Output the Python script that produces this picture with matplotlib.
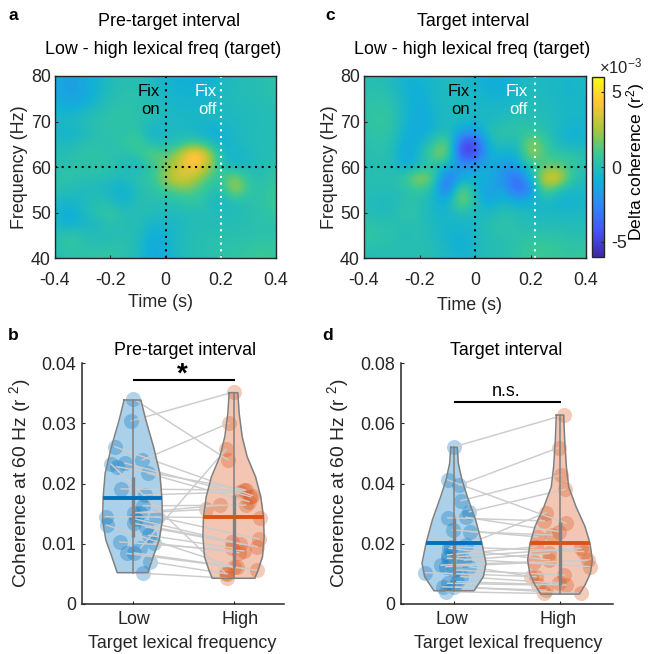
import numpy as np
import matplotlib
matplotlib.use("Agg")
import matplotlib.pyplot as plt
from matplotlib.colors import LinearSegmentedColormap

plt.rcParams['font.family'] = ['Liberation Sans', 'DejaVu Sans']
plt.rcParams['mathtext.default'] = 'regular'

W, H = 649, 654
DARK = '#262626'
FS = 12.9

# delta coherence (x 10^-3), rows 80 -> 40 Hz, columns -0.4 -> 0.4 s
pre_target = [
    [-1.0, -1.5, -1.3, -0.7, -0.2, 0.1, 0.1, -0.2, -0.7, -0.9, -0.9, -0.9, -0.5, -0.2, 0.0, 0.1, 0.4],
    [-1.2, -1.7, -1.4, -0.7, -0.1, 0.2, 0.2, -0.1, -0.6, -0.8, -0.8, -0.8, -0.4, -0.1, 0.1, 0.1, 0.5],
    [-1.0, -1.5, -1.3, -0.6, 0.1, 0.3, 0.3, 0.0, -0.5, -0.7, -0.7, -0.6, -0.3, -0.1, 0.0, 0.1, 0.3],
    [-0.7, -0.9, -0.6, -0.1, 0.3, 0.4, 0.3, 0.1, -0.3, -0.5, -0.5, -0.4, -0.2, -0.2, -0.1, 0.0, 0.1],
    [-0.3, -0.3, 0.0, 0.3, 0.5, 0.4, 0.3, 0.0, -0.3, -0.4, -0.4, -0.5, -0.4, -0.3, -0.2, 0.0, 0.0],
    [-0.4, -0.9, -0.3, 0.2, 0.3, 0.3, 0.6, -0.9, -0.3, -0.3, -0.4, -1.0, -0.9, -0.3, -0.1, 0.0, 0.0],
    [-0.2, -0.2, 0.2, 0.3, 0.3, 0.5, 1.2, 0.0, -0.2, 0.3, 1.2, 0.3, -0.8, -0.4, -0.1, 0.0, 0.1],
    [0.0, 0.2, 0.4, 0.4, 0.2, 0.2, 0.3, 1.8, 1.2, 2.8, 5.6, 3.8, -0.3, -0.7, -0.3, 0.0, 0.1],
    [0.2, 0.3, 0.4, 0.5, 0.4, 0.0, -0.5, 0.5, 1.8, 3.2, 4.6, 3.0, 0.2, -0.5, -0.3, 0.1, 0.3],
    [0.3, 0.5, 0.2, 0.1, 0.0, -0.2, 0.5, 0.5, 2.4, 3.8, 3.0, 1.2, 0.5, 2.5, 0.3, 0.1, 0.6],
    [0.3, 0.0, -0.2, -0.1, -0.6, -1.0, 0.0, 0.4, 0.9, 1.7, 1.5, 0.5, -0.2, 3.0, 0.6, 0.3, 0.9],
    [-0.3, -0.5, -0.3, 0.2, 0.0, -0.9, 0.1, 0.2, 0.1, 0.3, 0.7, 0.2, -0.6, 0.1, 0.2, 0.5, 1.0],
    [-0.4, -1.2, -0.4, 0.3, 0.7, 0.0, 0.1, 0.0, -0.2, -0.1, 0.1, 0.1, -0.2, -0.1, 0.1, 0.4, 0.6],
    [-0.4, -1.0, -0.5, -0.3, 0.3, 0.0, 0.1, -0.6, -0.5, -0.3, 0.0, 0.0, 0.0, 0.1, 0.2, 0.3, 0.3],
    [0.1, 0.6, 0.2, -0.1, 0.0, 0.2, 0.0, -1.0, -0.8, -0.2, 0.1, 0.2, 0.2, 0.2, 0.2, 0.3, 0.3],
    [0.1, 0.6, 0.3, 0.2, 0.3, 0.3, 0.0, -1.4, -0.9, -0.2, 0.1, 0.2, 0.3, 0.4, 0.5, 0.8, 0.6],
    [0.0, 0.3, 0.4, 0.6, 0.6, 0.3, -0.1, -1.4, -0.9, -0.2, 0.1, 0.2, 0.4, 0.5, 0.7, 1.0, 0.6],
]
target = [
    [0.0, 0.1, -0.2, -0.6, -0.7, -0.3, -0.2, -0.1, -0.6, -1.2, -1.2, -0.6, -0.2, -0.3, -0.5, -0.5, -0.3],
    [0.1, 0.2, -0.1, -0.8, -1.0, -0.4, -0.2, -0.2, -0.5, -1.0, -1.0, -0.5, -0.1, -0.3, -0.5, -0.6, -0.3],
    [0.2, 0.4, 0.2, -0.6, -1.1, -0.4, -0.2, -0.2, -0.4, -0.7, -0.7, -0.4, -0.1, -0.2, -0.4, -0.6, -0.4],
    [0.3, 0.7, 0.4, -0.6, -1.2, -0.6, -0.2, -0.3, -0.4, -0.4, -0.4, -0.2, 0.0, -0.1, -0.3, -0.5, -0.4],
    [0.3, 0.8, 0.5, -0.6, -1.3, -0.8, -0.1, -0.3, -0.5, -0.3, 0.0, 0.3, 0.1, 0.0, -0.3, -0.6, -0.5],
    [0.2, 0.6, 0.4, -0.9, -1.2, -0.7, 0.1, -1.5, -2.0, 0.1, 0.5, 0.3, 0.7, 0.3, -0.4, -0.9, -0.6],
    [0.1, 0.4, 0.2, -1.3, -0.8, 0.6, 2.4, -5.0, -5.0, -0.5, 0.1, -0.4, 2.6, 1.0, -0.3, -0.7, -0.5],
    [0.0, 0.3, 0.1, -1.5, -0.5, 1.8, 2.0, -4.8, -4.6, -0.8, -0.8, -1.2, 2.5, 1.0, 0.5, 0.6, 0.1],
    [0.0, 0.2, 0.0, -1.0, -0.2, 0.3, -0.7, -1.8, -1.5, -0.9, -1.8, -1.6, 0.2, 1.3, 1.7, 0.6, 0.1],
    [0.1, 0.2, 0.1, 0.8, 2.8, 1.5, -4.0, -1.2, -0.9, -0.8, -2.2, -3.8, -1.0, 3.8, 4.0, 0.3, 0.0],
    [0.0, 0.1, 0.0, 0.2, 0.9, -0.1, -4.0, 2.5, -0.6, -1.9, -1.0, -4.0, -2.8, 2.0, 0.2, -0.5, -0.3],
    [0.0, -0.2, -0.2, 0.3, 0.2, -0.5, -1.2, 2.5, 0.1, -1.6, -0.3, -1.2, -0.8, -0.3, -0.8, -0.8, -0.4],
    [0.1, -0.2, -0.1, 0.5, 0.3, -0.5, -0.7, 0.2, -0.3, -0.4, 0.2, 0.0, -0.3, -0.4, -0.4, -0.4, -0.3],
    [0.4, 0.3, 0.2, 0.2, 0.2, -0.3, -0.5, -0.5, -0.4, 0.2, 0.5, 0.2, -0.1, 0.0, 0.0, -0.1, 0.0],
    [0.6, 0.4, 0.3, -0.1, 0.2, -0.2, -0.7, -0.8, -0.5, 0.1, 0.2, 0.3, 0.3, 0.3, 0.3, 0.1, 0.2],
    [0.3, 0.2, 0.2, 0.1, 0.2, 0.0, -0.5, -1.0, -0.4, 0.1, 0.1, 0.4, 0.8, 0.9, 0.7, 0.4, 0.6],
    [0.1, 0.0, 0.1, 0.1, 0.2, 0.0, -0.3, -0.6, -0.3, 0.1, 0.1, 0.4, 0.9, 0.9, 0.7, 0.6, 0.8],
]

# paired coherence values, same subject on the same index
b_low = [.0341, .0304, .0239, .0093, .0261, .0234, .0232, .0228, .0217, .0191, .0181, .0163, .0151, .0151,
         .0145, .0145, .0141, .0134, .0131, .0128, .0114, .0103, .0101, .0085, .0084, .0070, .0051]
b_low_jit = [.007, -.013, .096, .079, -.175, -.076, -.211, -.158, .152, -.112, .119, .106, .013, .079,
             -.267, .228, .03, .013, -.257, .129, .162, -.125, .211, .013, -.053, .178, .106]
b_high = [.0239, .0352, .0300, .0257, .0180, .0178, .0051, .0190, .0170, .0189, .0186, .0164, .0164, .0157,
          .0143, .0108, .0100, .0103, .0062, .0095, .0093, .0088, .0085, .0061, .0056, .0050, .0043]
b_high_jit = [-.053, .003, -.046, -.073, .185, .168, -.079, .102, .152, .119, .069, .119, -.129, -.277,
              .267, .251, .069, -.013, .003, .234, -.013, .102, .053, .036, .234, -.063, -.069]

d_low = [.0522, .0395, .0343, .0306, .0412, .0286, .0288, .0246, .0240, .0196, .0190, .0185, .0163, .0157,
         .0152, .0146, .0129, .0124, .0124, .0113, .0104, .0091, .0074, .0069, .0057, .0057, .0041]
d_low_jit = [.003, .05, .066, .145, -.06, -.06, .113, -.013, .154, .113, -.028, -.044, -.06, .035,
             -.06, .097, -.123, -.075, .145, .003, -.27, .066, .028, -.06, -.107, .003, -.075]
d_high = [.0627, .0519, .0428, .0381, .0268, .0276, .0240, .0223, .0229, .0303, .0174, .0146, .0190, .0185,
          .0124, .0168, .0140, .0146, .0091, .0096, .0091, .0069, .0063, .0063, .0046, .0035, .0035]
d_high_jit = [.035, -.013, .009, .05, .057, -.148, -.006, -.21, -.075, -.132, .223, -.10, -.226, .198,
              .283, -.10, -.242, .261, -.274, .041, -.226, -.006, .057, -.21, -.132, .198, -.148]

# violin outlines: level, half width
b_low_lev = [.03386, .03054, .02611, .02169, .01781, .01394, .01062, .00786, .00520]
b_low_w = [.083, .132, .208, .271, .29, .297, .264, .205, .152]
b_high_lev = [.03507, .03165, .02777, .02445, .02113, .01781, .01449, .01117, .00785, .00564, .00427]
b_high_w = [.043, .056, .086, .135, .218, .27, .297, .303, .287, .244, .211]
d_low_lev = [.0520, .0467, .0412, .0356, .0279, .0201, .0135, .0091, .0069, .0044]
d_low_w = [.031, .041, .075, .126, .204, .264, .302, .277, .236, .189]
d_high_lev = [.0627, .0544, .0456, .0389, .0323, .0257, .0201, .0146, .0102, .0063, .0033]
d_high_w = [.035, .044, .06, .082, .151, .236, .283, .305, .286, .236, .182]

# median, lower and upper box
b_low_stats = [.0176, .0111, .0210]
b_high_stats = [.0144, .0062, .0181]
d_low_stats = [.0202, .0100, .0285]
d_high_stats = [.0203, .0063, .0272]

parula = LinearSegmentedColormap.from_list('parula', [
    (0.2422, 0.1504, 0.6603), (0.2810, 0.3228, 0.9579), (0.1786, 0.5289, 0.9682),
    (0.0689, 0.6948, 0.8394), (0.2161, 0.7843, 0.5923), (0.6720, 0.7793, 0.2227),
    (0.9970, 0.7659, 0.2199), (0.9769, 0.9839, 0.0805)])


def px_axes(x0, y0, x1, y1):
    return fig.add_axes([x0 / W, 1 - y1 / H, (x1 - x0) / W, (y1 - y0) / H])


def px_text(x, y, s, **kw):
    kw.setdefault('ha', 'center')
    kw.setdefault('va', 'center')
    kw.setdefault('fontsize', FS)
    kw.setdefault('color', DARK)
    return fig.text(x / W, 1 - y / H, s, **kw)


def heatmap(box, values, fix_off, off_gap):
    ax = px_axes(*box)
    im = ax.imshow(values, extent=(-0.425, 0.425, 38.75, 81.25), aspect='auto', cmap=parula,
                   vmin=-6, vmax=6, interpolation='bicubic')
    ax.set_xlim(-0.4, 0.4)
    ax.set_ylim(40, 80)
    ax.set_xticks([-0.4, -0.2, 0, 0.2, 0.4], ['-0.4', '-0.2', '0', '0.2', '0.4'])
    ax.set_yticks([40, 50, 60, 70, 80])
    ax.tick_params(direction='in', length=2.5, width=0.8, labelsize=FS, colors=DARK, pad=3)
    ax.tick_params(axis='x', pad=10)
    for s in ax.spines.values():
        s.set_linewidth(1.0)
        s.set_color(DARK)
    ax.axhline(60, color='k', lw=1.5, ls=(0, (1, 2.2)))
    ax.axvline(0, color='k', lw=1.5, ls=(0, (1, 2.2)))
    ax.axvline(fix_off, color='w', lw=1.5, ls=(0, (1, 2.2)))
    ax.text(-0.02, 74.6, 'Fix\non', ha='right', va='center', color='k', fontsize=12, linespacing=1.25)
    ax.text(fix_off - off_gap, 74.6, 'Fix\noff', ha='right', va='center', color='w', fontsize=12, linespacing=1.25)
    return im


def violin(ax, pos, lev, half, stats, color, vals, jit):
    lev = np.array(lev)
    half = np.array(half)
    ax.fill_betweenx(lev, pos - half, pos + half, color=color, alpha=0.33, lw=0, zorder=1)
    ax.plot(np.r_[pos - half, (pos + half)[::-1], pos - half[0]], np.r_[lev, lev[::-1], lev[0]],
            color='#808080', lw=1.1, zorder=4)
    ax.scatter(pos + np.array(jit), vals, s=118, color=color, alpha=0.3, lw=0, zorder=2)
    ax.plot([pos, pos], [lev[-1], lev[0]], color='#808080', lw=1.1, zorder=4)
    ax.plot([pos, pos], [stats[1], stats[2]], color='#808080', lw=2.4, zorder=4, solid_capstyle='butt')
    w = np.interp(stats[0], lev[::-1], half[::-1])
    ax.plot([pos - w, pos + w], [stats[0], stats[0]], color=color, lw=2.8, zorder=5, solid_capstyle='butt')


def violin_panel(box, ymax, yticks, ylabels, low, low_jit, high, high_jit, low_shape, high_shape, low_st, high_st):
    ax = px_axes(*box)
    violin(ax, 1, low_shape[0], low_shape[1], low_st, '#0072BD', low, low_jit)
    violin(ax, 2, high_shape[0], high_shape[1], high_st, '#D95319', high, high_jit)
    for a, aj, c, cj in zip(low, low_jit, high, high_jit):
        ax.plot([1 + aj, 2 + cj], [a, c], color='#cccccc', lw=1.05, zorder=3)
    ax.set_xlim(0.5, 2.5)
    ax.set_ylim(0, ymax)
    ax.set_xticks([1, 2], ['', ''])
    ax.set_yticks(yticks, ylabels)
    ax.tick_params(direction='in', length=2.5, width=0.8, labelsize=FS, colors=DARK, pad=4)
    ax.spines['top'].set_visible(False)
    ax.spines['right'].set_visible(False)
    for k in ['left', 'bottom']:
        ax.spines[k].set_linewidth(1.1)
        ax.spines[k].set_color(DARK)
    ax.patch.set_alpha(0)
    return ax


fig = plt.figure(figsize=(W / 100, H / 100), dpi=100)

heatmap((55, 76, 276, 258), pre_target, 0.2, 0.015)
im = heatmap((364, 76, 586, 258), target, 0.215, 0.025)

cax = px_axes(592, 77, 604, 257)
cb = fig.colorbar(im, cax=cax)
cb.set_ticks([-5, 0, 5], labels=['-5', '0', '5'])
cax.tick_params(direction='in', length=2.5, width=0.8, labelsize=FS, colors=DARK, pad=5)
cb.outline.set_linewidth(1.0)
cb.outline.set_edgecolor(DARK)

ax_b = violin_panel((82, 363, 284, 604), 0.04, [0, .01, .02, .03, .04], ['0', '0.01', '0.02', '0.03', '0.04'],
                    b_low, b_low_jit, b_high, b_high_jit, (b_low_lev, b_low_w), (b_high_lev, b_high_w),
                    b_low_stats, b_high_stats)
ax_d = violin_panel((401, 363, 613, 604), 0.08, [0, .02, .04, .06, .08], ['0', '0.02', '0.04', '0.06', '0.08'],
                    d_low, d_low_jit, d_high, d_high_jit, (d_low_lev, d_low_w), (d_high_lev, d_high_w),
                    d_low_stats, d_high_stats)

# significance bars
ax_b.plot([1.01, 2.0], [.0371, .0371], color='k', lw=1.5, clip_on=False)
ax_d.plot([1.01, 2.0], [.0671, .0671], color='k', lw=1.5, clip_on=False)

# text
for x, y, s in [(13, 15, 'a'), (330, 15, 'c'), (13, 335, 'b'), (328, 335, 'd')]:
    px_text(x, y, s, fontweight='bold', fontsize=12.5, color='k')
px_text(169, 21, 'Pre-target interval', color='k')
px_text(163, 50, 'Low - high lexical freq (target)', color='k')
px_text(473, 21, 'Target interval', color='k')
px_text(472, 50, 'Low - high lexical freq (target)', color='k')
px_text(20, 167, 'Frequency (Hz)', rotation=90)
px_text(329, 167, 'Frequency (Hz)', rotation=90)
px_text(161, 302, 'Time (s)')
px_text(470, 305, 'Time (s)')
px_text(636, 162, 'Delta coherence (r$^{2}$)', rotation=90, color='k', fontsize=12.6)
px_text(621, 66, '$\\times$10$^{-3}$', fontsize=12)
px_text(185, 350, 'Pre-target interval', color='k')
px_text(506, 350, 'Target interval', color='k')
px_text(182, 375, '*', color='k', fontsize=20, fontweight='bold')
px_text(506, 391, 'n.s.', color='k')
px_text(20, 483, 'Coherence at 60 Hz (r $^{2}$)', rotation=90, fontsize=13.9)
px_text(338, 483, 'Coherence at 60 Hz (r $^{2}$)', rotation=90, fontsize=13.9)
px_text(134, 619, 'Low')
px_text(240, 619, 'High')
px_text(452, 619, 'Low')
px_text(558, 619, 'High')
px_text(182, 643, 'Target lexical frequency')
px_text(508, 643, 'Target lexical frequency')

fig.savefig('out.png', dpi=100)
